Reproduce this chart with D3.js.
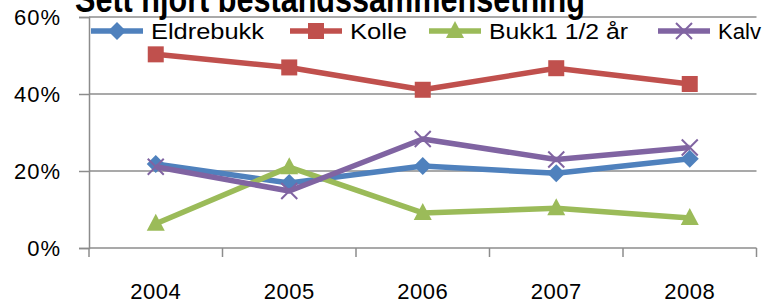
<!DOCTYPE html>
<html>
<head>
<meta charset="utf-8">
<script src="https://cdn.jsdelivr.net/npm/d3@7/dist/d3.min.js"></script>
<style>
  body { margin: 0; background: #fff; }
  svg { display: block; }
</style>
</head>
<body>
<div id="chart"></div>
<script>
const years = ["2004", "2005", "2006", "2007", "2008"];
const seriesNames = ["Eldrebukk", "Kolle", "Bukk1 1/2 år", "Kalv"];
const eldrebukk = [21.8, 16.9, 21.3, 19.4, 23.2];
const kolle = [50.3, 46.9, 41.1, 46.7, 42.6];
const bukk = [6.3, 21.0, 9.1, 10.3, 7.8];
const kalv = [21.1, 14.8, 28.3, 23.0, 26.1];
const yTicks = [0, 20, 40, 60];
const title = "Sett hjort bestandssammensetning";

const width = 768, height = 304;
const colors = ["#4F81BD", "#C0504D", "#9BBB59", "#8064A2"];
const shapes = ["diamond", "square", "triangle", "cross"];
const values = [eldrebukk, kolle, bukk, kalv];

const svg = d3.select("#chart").append("svg")
    .attr("width", width)
    .attr("height", height);

const x = d3.scaleBand().domain(years).range([89, 756.5]);
const y = d3.scaleLinear().domain([0, 60]).range([248, 17]);

// gridlines
svg.append("g")
    .selectAll("line")
    .data(yTicks.filter(d => d > 0))
    .enter()
    .append("line")
    .attr("x1", 89).attr("x2", 756.5)
    .attr("y1", d => y(d)).attr("y2", d => y(d))
    .attr("stroke", "#8c8c8c")
    .attr("stroke-width", 1.5);

// y axis
const yAxis = svg.append("g")
    .attr("transform", "translate(89,0)")
    .call(d3.axisLeft(y).tickValues(yTicks).tickSize(10).tickPadding(18)
        .tickFormat(d => d + "%"));
yAxis.selectAll("path, line").attr("stroke", "#8c8c8c").attr("stroke-width", 1.5);
yAxis.selectAll("text")
    .attr("font-family", "Liberation Sans, Arial, sans-serif")
    .attr("font-size", 22)
    .attr("fill", "#000")
    .attr("letter-spacing", 1);

// x axis, ticks on band edges
const xAxis = svg.append("g").attr("transform", "translate(0,248)");
xAxis.append("line")
    .attr("x1", 89).attr("x2", 756.5)
    .attr("stroke", "#8c8c8c").attr("stroke-width", 1.5);
xAxis.selectAll(".tk")
    .data(years.concat(["end"]))
    .enter()
    .append("line")
    .attr("class", "tk")
    .attr("x1", d => d === "end" ? x.range()[1] : x(d))
    .attr("x2", d => d === "end" ? x.range()[1] : x(d))
    .attr("y1", 0).attr("y2", 9)
    .attr("stroke", "#8c8c8c").attr("stroke-width", 1.5);
xAxis.selectAll(".lbl")
    .data(years)
    .enter()
    .append("text")
    .attr("class", "lbl")
    .attr("x", d => x(d) + x.bandwidth() / 2)
    .attr("y", 51)
    .attr("text-anchor", "middle")
    .attr("font-family", "Liberation Sans, Arial, sans-serif")
    .attr("font-size", 22)
    .attr("letter-spacing", 0.5)
    .text(d => d);

const cx = d => x(d) + x.bandwidth() / 2;

function marker(g, shape, color) {
    if (shape === "diamond") {
        g.append("path").attr("d", "M0,-9L9,0L0,9L-9,0Z").attr("fill", color);
    } else if (shape === "square") {
        g.append("rect").attr("x", -8).attr("y", -8).attr("width", 16).attr("height", 16).attr("fill", color);
    } else if (shape === "triangle") {
        g.append("path").attr("d", "M0,-10L9,7L-9,7Z").attr("fill", color);
    } else {
        g.append("path").attr("d", "M-8,-8L8,8M-8,8L8,-8")
            .attr("stroke", color).attr("stroke-width", 2).attr("fill", "none");
    }
}

const line = d3.line().x((d, i) => cx(years[i])).y(d => y(d));

values.forEach((vals, s) => {
    svg.append("path")
        .datum(vals)
        .attr("d", line)
        .attr("fill", "none")
        .attr("stroke", colors[s])
        .attr("stroke-width", 5.5)
        .attr("stroke-linejoin", "round");
    vals.forEach((v, i) => {
        const g = svg.append("g").attr("transform", "translate(" + cx(years[i]) + "," + y(v) + ")");
        marker(g, shapes[s], colors[s]);
    });
});

// legend
const legendX = [91, 290, 429, 658];
const legendW = [113, 57, 139, 43];
const legend = svg.append("g");
seriesNames.forEach((name, s) => {
    const lx = legendX[s];
    legend.append("line")
        .attr("x1", lx).attr("x2", lx + 52)
        .attr("y1", 31).attr("y2", 31)
        .attr("stroke", colors[s]).attr("stroke-width", 5.5);
    const g = legend.append("g").attr("transform", "translate(" + (lx + 26) + ",31)");
    marker(g, shapes[s], colors[s]);
    legend.append("text")
        .attr("x", lx + 60)
        .attr("y", 39)
        .attr("font-family", "Liberation Sans, Arial, sans-serif")
        .attr("font-size", 22)
        .attr("textLength", legendW[s])
        .attr("lengthAdjust", "spacingAndGlyphs")
        .text(name);
});

// title, clipped at top like the original
svg.append("text")
    .attr("x", 75)
    .attr("y", 12)
    .attr("font-family", "Liberation Sans, Arial, sans-serif")
    .attr("font-weight", "bold")
    .attr("font-size", 36)
    .attr("textLength", 510)
    .attr("lengthAdjust", "spacingAndGlyphs")
    .text(title);
</script>
</body>
</html>
